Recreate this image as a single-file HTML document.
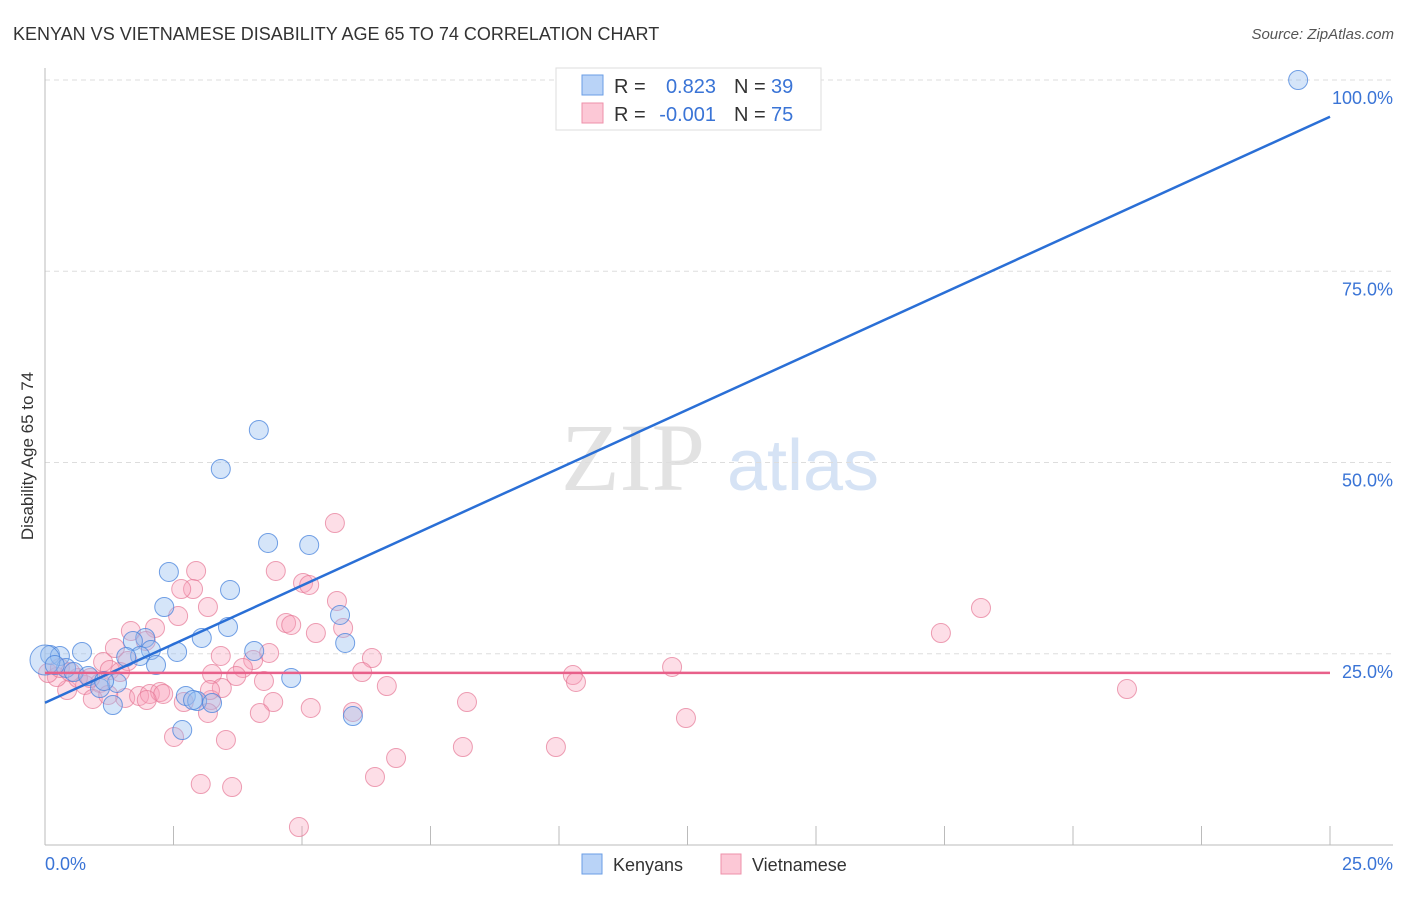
<!DOCTYPE html>
<html><head><meta charset="utf-8"><style>
body{margin:0;background:#fff;font-family:"Liberation Sans",sans-serif}
</style></head><body>
<svg id="chart" width="1406" height="892" xmlns="http://www.w3.org/2000/svg" style="font-family:'Liberation Sans',sans-serif">
<text x="13" y="40" font-size="18" fill="#333">KENYAN VS VIETNAMESE DISABILITY AGE 65 TO 74 CORRELATION CHART</text>
<text x="1394" y="39" font-size="15" fill="#555" font-style="italic" text-anchor="end">Source: ZipAtlas.com</text>
<text transform="translate(33,456) rotate(-90)" font-size="17" fill="#333" text-anchor="middle">Disability Age 65 to 74</text>
<g><text x="633" y="490" font-size="96" font-family="'Liberation Serif',serif" fill="#e2e2e2" text-anchor="middle">ZIP</text><text x="803" y="490" font-size="72" fill="#d6e3f5" text-anchor="middle">atlas</text></g>
<g id="grid"></g><g id="axes"></g><g id="pts"></g><g id="lines"></g>
<g>
<rect x="556" y="68" width="265" height="62" fill="#fff" stroke="#ddd"/>
<rect x="582" y="75" width="21" height="20" fill="#b9d3f7" stroke="#6a9ee6"/>
<rect x="582" y="103" width="21" height="20" fill="#fcc8d6" stroke="#ee90aa"/>
<text x="614" y="93" font-size="20" fill="#333">R =</text><text x="716" y="93" font-size="20" fill="#3a74d6" text-anchor="end">0.823</text>
<text x="734" y="93" font-size="20" fill="#333">N =</text><text x="771" y="93" font-size="20" fill="#3a74d6">39</text>
<text x="614" y="121" font-size="20" fill="#333">R =</text><text x="716" y="121" font-size="20" fill="#3a74d6" text-anchor="end">-0.001</text>
<text x="734" y="121" font-size="20" fill="#333">N =</text><text x="771" y="121" font-size="20" fill="#3a74d6">75</text>
</g>
<g>
<rect x="582" y="854" width="20" height="20" fill="#b9d3f7" stroke="#6a9ee6"/><text x="613" y="871" font-size="18" fill="#333">Kenyans</text>
<rect x="721" y="854" width="20" height="20" fill="#fcc8d6" stroke="#ee90aa"/><text x="752" y="871" font-size="18" fill="#333">Vietnamese</text>
</g>
</svg>
<script>
const xTicks=[0,2.5,5,7.5,10,12.5,15,17.5,20,22.5,25];
const yTicks=[25,50,75,100];
const yTickLabels=["25.0%","50.0%","75.0%","100.0%"];
const kenX=[24.38,4.16,3.42,4.34,5.14,2.41,3.60,2.32,5.74,3.56,3.05,1.95,1.71,5.84,4.07,2.57,2.06,0.72,1.85,1.58,0.10,0.29,2.16,0.41,0.56,0,0.19,0.84,1.40,1.07,1.15,4.79,2.74,2.96,3.25,2.88,1.32,2.67,5.99];
const kenY=[100,54.25,49.15,39.48,39.22,35.69,33.33,31.11,30.07,28.50,27.06,27.06,26.67,26.41,25.36,25.23,25.49,25.23,24.71,24.58,24.84,24.71,23.53,23.14,22.61,24.18,23.53,22.09,21.18,20.52,21.44,21.83,19.48,18.82,18.56,18.95,18.30,15.03,16.86];
const vieX=[5.64,18.21,17.43,21.05,2.94,4.49,5.02,5.14,2.88,2.65,3.17,2.59,5.68,4.69,4.79,5.27,5.80,1.67,2.14,1.96,1.36,3.42,4.36,4.05,6.36,3.85,1.13,1.61,3.25,3.72,4.26,6.17,10.27,10.33,12.20,6.65,3.44,0.78,0.43,1.07,0.23,0.06,0.64,1.26,1.56,0.93,1.23,1.83,2.04,2.24,2.30,1.98,2.70,3.23,4.44,3.17,4.18,5.17,5.99,8.21,12.47,2.51,3.52,8.13,9.94,6.83,6.42,3.03,3.64,4.94,0.29,0.49,0.88,1.46,3.21];
const vieY=[42.09,30.98,27.71,20.39,35.82,35.82,34.25,33.99,33.46,33.46,31.11,29.93,31.90,29.02,28.76,27.71,28.37,27.97,28.37,26.67,25.75,24.71,25.10,24.18,24.44,23.14,23.92,24.05,22.35,22.09,21.44,22.61,22.22,21.31,23.27,20.78,20.52,20.92,20.26,21.18,21.96,22.48,21.83,22.88,19.22,19.09,19.61,19.48,19.74,20.00,19.74,18.95,18.69,18.95,18.69,17.26,17.26,17.91,17.39,18.69,16.60,14.12,13.73,12.81,12.81,11.37,8.89,7.97,7.58,2.35,23.14,22.61,21.83,22.61,20.26];
const kenTrend=[18.6,95.2];
const vieTrend=[22.5,22.5];
const NS="http://www.w3.org/2000/svg";
const X=v=>45+v/25*1285, Y=v=>845-v/100*765;
function mk(t,a,p){const e=document.createElementNS(NS,t);for(const k in a)e.setAttribute(k,a[k]);document.getElementById(p).appendChild(e);return e;}
yTicks.forEach((t,i)=>{
 const g=mk('line',{x1:45,x2:1393,y1:Y(t),y2:Y(t),stroke:'#ddd','stroke-dasharray':'5,4'},'grid');
 
 
 const l=mk('text',{x:1393,y:Y(t)+24,'font-size':18,fill:'#3a74d6','text-anchor':'end'},'grid');l.textContent=yTickLabels[i];
 
 
});
const ax=mk('line',{x1:45,x2:45,y1:68,y2:845,stroke:'#bbb'},'axes');


const bx=mk('line',{x1:45,x2:1393,y1:845,y2:845,stroke:'#bbb'},'axes');


xTicks.forEach(t=>{const tk=mk('line',{x1:X(t),x2:X(t),y1:826,y2:845,stroke:'#bbb'},'axes');
 
 });
const x0=mk('text',{x:45,y:870,'font-size':18,fill:'#3a74d6'},'axes');x0.textContent=xTicks[0].toFixed(1)+'%';


const x1=mk('text',{x:1393,y:870,'font-size':18,fill:'#3a74d6','text-anchor':'end'},'axes');x1.textContent=xTicks[10].toFixed(1)+'%';


vieX.forEach((v,i)=>{const c=mk('circle',{cx:X(v),cy:Y(vieY[i]),r:9.5,fill:'rgba(248,160,185,0.35)',stroke:'rgba(230,120,150,0.7)','stroke-width':1},'pts');
 
 });
kenX.forEach((v,i)=>{const c=mk('circle',{cx:X(v),cy:Y(kenY[i]),r:i==25?15:9.5,fill:'rgba(150,190,240,0.4)',stroke:'rgba(70,130,220,0.75)','stroke-width':1},'pts');
 
 });
const kl=mk('line',{x1:X(0),x2:X(25),y1:Y(kenTrend[0]),y2:Y(kenTrend[1]),stroke:'#2a6fd6','stroke-width':2.5},'lines');


const vl=mk('line',{x1:X(0),x2:X(25),y1:Y(vieTrend[0]),y2:Y(vieTrend[1]),stroke:'#e8608a','stroke-width':2.5},'lines');


</script>
</body></html>
